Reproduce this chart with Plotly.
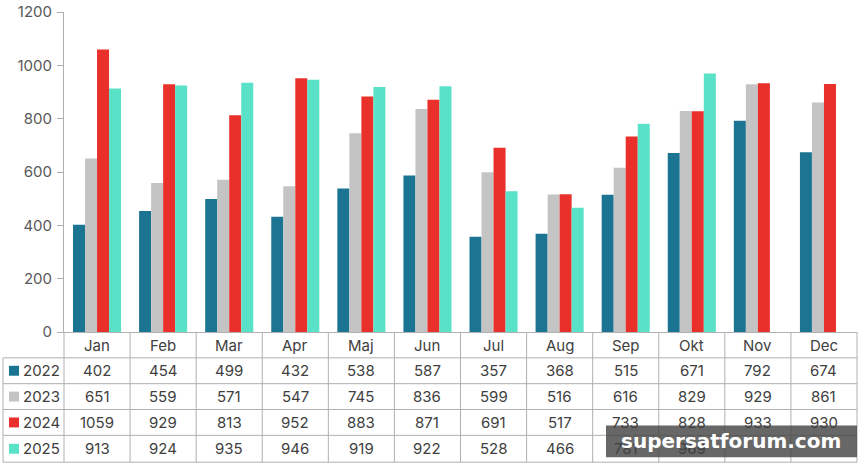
import plotly.graph_objects as go

months = ["Jan", "Feb", "Mar", "Apr", "Maj", "Jun", "Jul", "Aug", "Sep", "Okt", "Nov", "Dec"]
years = ["2022", "2023", "2024", "2025"]
v2022 = [402, 454, 499, 432, 538, 587, 357, 368, 515, 671, 792, 674]
v2023 = [651, 559, 571, 547, 745, 836, 599, 516, 616, 829, 929, 861]
v2024 = [1059, 929, 813, 952, 883, 871, 691, 517, 733, 828, 933, 930]
v2025 = [913, 924, 935, 946, 919, 922, 528, 466, 781, 969, None, None]
colors = ["#1b7592", "#c4c4c4", "#e9302a", "#5ae2c8"]
y_ticks = [0, 200, 400, 600, 800, 1000, 1200]

series = [v2022, v2023, v2024, v2025]

W, H = 859, 464
ml, mr, mt, mb = 64, 2, 10, 132
pw = W - ml - mr
ph = H - mt - mb

def py(p):
    return (H - mb - p) / ph

def px(p):
    return (p - ml) / pw

fig = go.Figure()
for name, vals, c in zip(years, series, colors):
    fig.add_trace(go.Bar(x=months, y=vals, name=name, marker=dict(color=c, line=dict(width=0))))

line_col = "#b0b0b0"
shapes = []
ann = []
row_edges = [332, 358, 384, 410, 436, 463]
n = len(months)
for k in range(n + 1):
    shapes.append(dict(type="line", xref="paper", yref="paper", x0=k / n, x1=k / n,
                       y0=py(row_edges[0]), y1=py(row_edges[-1]), line=dict(color=line_col, width=1)))
for r in row_edges[1:]:
    shapes.append(dict(type="line", xref="paper", yref="paper", x0=px(3), x1=1,
                       y0=py(r), y1=py(r), line=dict(color=line_col, width=1)))
shapes.append(dict(type="line", xref="paper", yref="paper", x0=px(3), x1=px(3),
                   y0=py(row_edges[1]), y1=py(row_edges[-1]), line=dict(color=line_col, width=1)))

fnt = "Inter, Liberation Sans, sans-serif"
tcol = "#404040"
for m in months:
    ann.append(dict(x=m, xref="x", y=py((row_edges[0] + row_edges[1]) / 2 + 1), yref="paper",
                    xanchor="center", yanchor="middle",
                    text=m, showarrow=False, font=dict(family=fnt, size=15, color=tcol)))
for i, (name, vals, c) in enumerate(zip(years, series, colors)):
    yc = (row_edges[i + 1] + row_edges[i + 2]) / 2
    for m, v in zip(months, vals):
        if v is not None:
            ann.append(dict(x=m, xref="x", y=py(yc), yref="paper", text=str(v), showarrow=False,
                            xanchor="center", yanchor="middle",
                            font=dict(family=fnt, size=15, color=tcol)))
    shapes.append(dict(type="rect", xref="paper", yref="paper", x0=px(9), x1=px(19),
                       y0=py(yc + 5), y1=py(yc - 5), fillcolor=c, line=dict(width=0)))
    ann.append(dict(x=px(62), xref="paper", y=py(yc), yref="paper", text=name, showarrow=False,
                    xanchor="right", yanchor="middle", font=dict(family=fnt, size=15, color=tcol)))

# watermark
shapes.append(dict(type="rect", xref="paper", yref="paper", x0=px(606), x1=px(857),
                   y0=py(458), y1=py(426), fillcolor="rgba(70,70,70,0.82)", line=dict(width=0)))
ann.append(dict(x=px(731), xref="paper", y=py(442), yref="paper", text="<b>supersatforum.com</b>",
                xanchor="center", yanchor="middle",
                showarrow=False, font=dict(family="DejaVu Sans", size=20, color="white")))

fig.update_layout(
    width=W, height=H, margin=dict(l=ml, r=mr, t=mt, b=mb),
    paper_bgcolor="white", plot_bgcolor="white",
    barmode="group", bargap=18 / 66, bargroupgap=0,
    showlegend=False, shapes=shapes, annotations=ann,
    font=dict(family=fnt, color="#595959"),
)
fig.update_xaxes(showticklabels=False, showline=True, linecolor=line_col, linewidth=1,
                 ticks="", showgrid=False, range=[-0.5, 11.5])
fig.update_yaxes(range=[0, 1200], tickvals=y_ticks, showline=True, linecolor=line_col, linewidth=1,
                 ticks="outside", ticklen=6, tickcolor=line_col, showgrid=False, zeroline=False,
                 tickfont=dict(family=fnt, size=15, color="#595959"), ticklabelstandoff=2)
fig.write_html("out.html")
